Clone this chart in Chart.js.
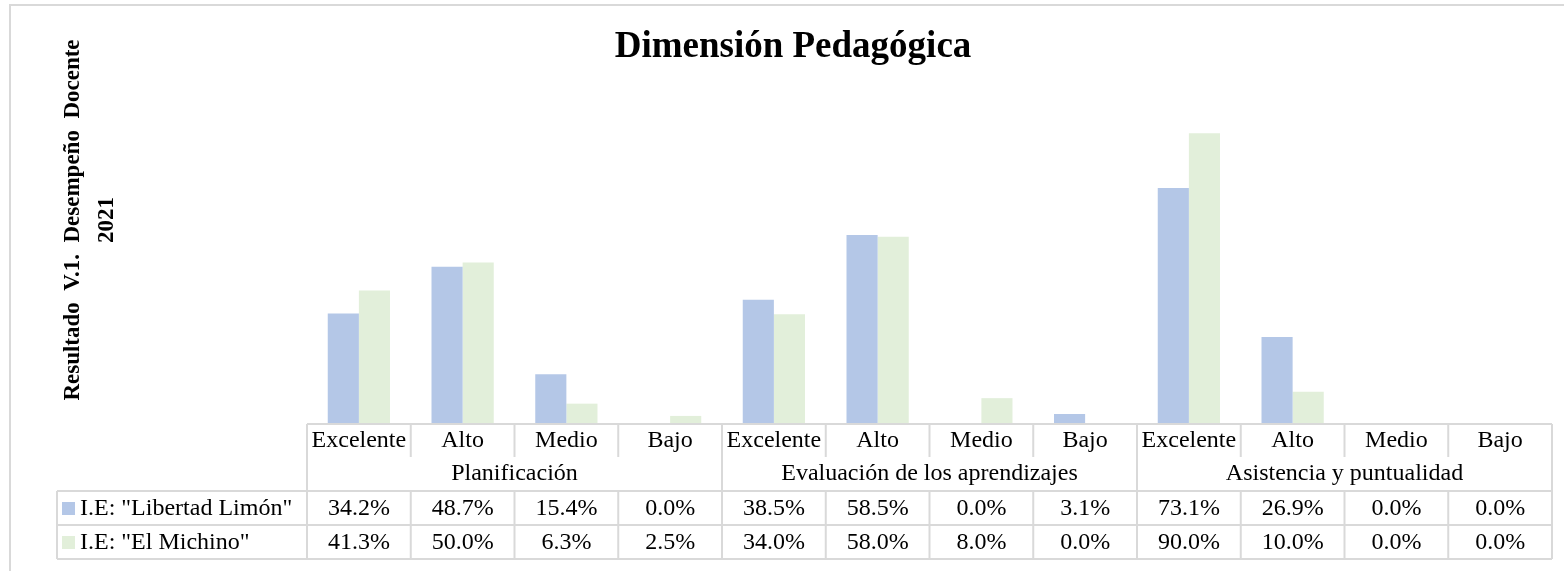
<!DOCTYPE html>
<html>
<head>
<meta charset="utf-8">
<script src="https://cdn.jsdelivr.net/npm/chart.js@4/dist/chart.umd.min.js"></script>
<style>
html,body{margin:0;padding:0;background:#fff;}
#c{display:block;}
</style>
</head>
<body>
<canvas id="c" width="1564" height="571"></canvas>
<script>
const chartTitle = 'Dimensión Pedagógica';
const yTitleLines = ['Resultado  V.1.  Desempeño  Docente', '2021'];
const categories = ['Excelente','Alto','Medio','Bajo','Excelente','Alto','Medio','Bajo','Excelente','Alto','Medio','Bajo'];
const groups = ['Planificación','Evaluación de los aprendizajes','Asistencia y puntualidad'];
const groupSize = 4;
const seriesNames = ['I.E: "Libertad Limón"', 'I.E: "El Michino"'];
const libertadLimon = [34.2, 48.7, 15.4, 0.0, 38.5, 58.5, 0.0, 3.1, 73.1, 26.9, 0.0, 0.0];
const elMichino = [41.3, 50.0, 6.3, 2.5, 34.0, 58.0, 8.0, 0.0, 90.0, 10.0, 0.0, 0.0];
const seriesColors = ['#B4C7E7', '#E2EFDA'];

const GRID = '#d9d9d9';
const FONT = '"Liberation Serif", "Times New Roman", serif';

const tablePlugin = {
  id: 'tablePlugin',
  afterDraw(chart) {
    const ctx = chart.ctx;
    const x = chart.scales.x;
    const area = chart.chartArea;
    const n = categories.length;
    const w = (area.right - area.left) / n;
    const left = x.getPixelForValue(0) - w / 2;
    const right = x.getPixelForValue(n - 1) + w / 2;
    const top = area.bottom;
    const rowCat = 33, rowGrp = 34, rowSer = 34;
    const yCatB = top + rowCat;
    const yGrpB = yCatB + rowGrp;
    const yS1 = yGrpB + rowSer;
    const yS2 = yS1 + rowSer;
    const legendLeft = 57;

    ctx.save();
    // outer frame
    ctx.strokeStyle = GRID; ctx.lineWidth = 2;
    ctx.strokeRect(10, 5, 1600, 620);

    // title
    ctx.fillStyle = '#000';
    ctx.font = 'bold 37px ' + FONT;
    ctx.textAlign = 'center'; ctx.textBaseline = 'middle';
    ctx.fillText(chartTitle, 793, 47);

    // y title
    ctx.save();
    ctx.font = 'bold 23px ' + FONT;
    ctx.translate(73, 220);
    ctx.rotate(-Math.PI / 2);
    ctx.fillText(yTitleLines[0], 0, 0);
    ctx.fillText(yTitleLines[1], 0, 34);
    ctx.restore();

    // grid lines
    ctx.strokeStyle = GRID; ctx.lineWidth = 2;
    ctx.beginPath();
    ctx.moveTo(left, top); ctx.lineTo(right, top);
    ctx.moveTo(legendLeft, yGrpB); ctx.lineTo(right, yGrpB);
    ctx.moveTo(legendLeft, yS1); ctx.lineTo(right, yS1);
    ctx.moveTo(legendLeft, yS2); ctx.lineTo(right, yS2);
    ctx.moveTo(left, top); ctx.lineTo(left, yS2);
    ctx.moveTo(legendLeft, yGrpB); ctx.lineTo(legendLeft, yS2);
    ctx.moveTo(right, top); ctx.lineTo(right, yS2);
    for (let i = 1; i < n; i++) {
      const bx = x.getPixelForValue(i) - w / 2;
      ctx.moveTo(bx, top); ctx.lineTo(bx, yCatB);
      ctx.moveTo(bx, yGrpB); ctx.lineTo(bx, yS2);
      if (i % groupSize === 0) { ctx.moveTo(bx, yCatB); ctx.lineTo(bx, yGrpB); }
    }
    ctx.stroke();

    // texts
    ctx.fillStyle = '#000';
    ctx.font = '24px ' + FONT;
    ctx.textAlign = 'center'; ctx.textBaseline = 'middle';
    const data = [libertadLimon, elMichino];
    for (let i = 0; i < n; i++) {
      const cx = x.getPixelForValue(i);
      ctx.fillText(categories[i], cx, top + 17);
      ctx.fillText(data[0][i].toFixed(1) + '%', cx, yGrpB + 18);
      ctx.fillText(data[1][i].toFixed(1) + '%', cx, yS1 + 18);
    }
    for (let g = 0; g < groups.length; g++) {
      const a = x.getPixelForValue(g * groupSize) - w / 2;
      const b = x.getPixelForValue(g * groupSize + groupSize - 1) + w / 2;
      ctx.fillText(groups[g], (a + b) / 2, yCatB + 17);
    }
    ctx.textAlign = 'left';
    const rowTops = [yGrpB, yS1];
    for (let s = 0; s < 2; s++) {
      ctx.fillStyle = seriesColors[s];
      ctx.fillRect(62, rowTops[s] + 11, 13, 13);
      ctx.fillStyle = '#000';
      ctx.fillText(seriesNames[s], 80, rowTops[s] + 18);
    }
    ctx.restore();
  }
};

new Chart(document.getElementById('c'), {
  type: 'bar',
  data: {
    labels: categories,
    datasets: [
      { label: seriesNames[0], data: libertadLimon, backgroundColor: seriesColors[0], borderWidth: 0, categoryPercentage: 0.6, barPercentage: 1.0 },
      { label: seriesNames[1], data: elMichino, backgroundColor: seriesColors[1], borderWidth: 0, categoryPercentage: 0.6, barPercentage: 1.0 }
    ]
  },
  options: {
    responsive: false,
    animation: false,
    layout: { padding: { left: 307, right: 12, top: 101, bottom: 147 } },
    scales: {
      x: { display: false },
      y: { display: false, min: 0, max: 100 }
    },
    plugins: { legend: { display: false }, tooltip: { enabled: false }, title: { display: false } }
  },
  plugins: [tablePlugin]
});
</script>
</body>
</html>
